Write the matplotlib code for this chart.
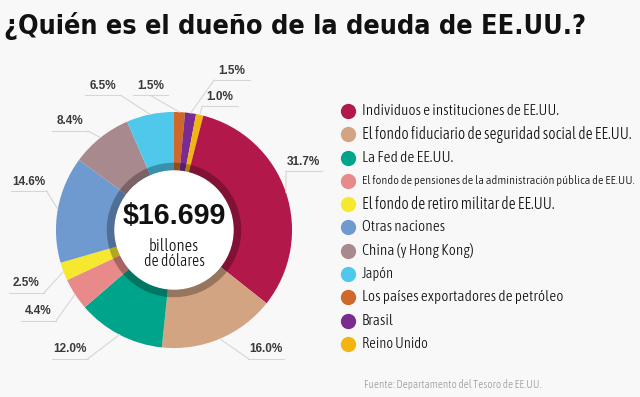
import numpy as np
import matplotlib
matplotlib.use("Agg")
import matplotlib.pyplot as plt
from matplotlib import font_manager
from matplotlib.font_manager import FontProperties

# --- Datos ---
categorias = [
    "Los países exportadores de petróleo",
    "Brasil",
    "Reino Unido",
    "Individuos e instituciones de EE.UU.",
    "El fondo fiduciario de seguridad social de EE.UU.",
    "La Fed de EE.UU.",
    "El fondo de pensiones de la administración pública de EE.UU.",
    "El fondo de retiro militar de EE.UU.",
    "Otras naciones",
    "China (y Hong Kong)",
    "Japón",
]
porcentajes = [1.5, 1.5, 1.0, 31.7, 16.0, 12.0, 4.4, 2.5, 14.6, 8.4, 6.5]
colores = ["#D0682A", "#7B2A90", "#F2B410", "#B3184A", "#D3A482", "#00A48A",
           "#E98A8A", "#F6E82E", "#6F9AD0", "#A88A8E", "#4FC8EC"]

# orden de la leyenda
orden_leyenda = [3, 4, 5, 6, 7, 8, 9, 10, 0, 1, 2]

# posiciones de las etiquetas (unidades del radio)
pos_etiquetas = [(-0.20, 1.22), (0.49, 1.35), (0.39, 1.13), (1.10, 0.58),
                 (0.78, -1.01), (-0.88, -1.01), (-1.15, -0.69), (-1.25, -0.45),
                 (-1.23, 0.41), (-0.88, 0.92), (-0.60, 1.22)]

total = "$16.699"
titulo = "¿Quién es el dueño de la deuda de EE.UU.?"
fuente = "Fuente: Departamento del Tesoro de EE.UU."


# --- Fuentes: busca una fuente condensada si existe ---
def buscar_condensada(peso):
    cands = []
    for f in font_manager.fontManager.ttflist:
        s = (f.name + " " + f.fname).lower()
        if "condensed" in s or "narrow" in s or str(f.stretch) in ("condensed", "semi-condensed"):
            if "italic" in s or f.style != "normal":
                continue
            if "mono" in s or "serif" in s.replace("sans-serif", ""):
                continue
            w = f.weight if isinstance(f.weight, int) else (700 if "bold" in str(f.weight) else 400)
            cands.append((abs(w - peso), f.fname))
    if cands:
        cands.sort()
        return FontProperties(fname=cands[0][1])
    return FontProperties(family="DejaVu Sans", weight="bold" if peso >= 600 else "normal")


fp_bold = buscar_condensada(700)
fp_reg = buscar_condensada(300)
fp_num = FontProperties(family="Liberation Sans", weight="bold")

fondo = "#F8F8F8"
W, H = 640, 397
fig = plt.figure(figsize=(6.4, 3.97), dpi=100, facecolor=fondo)
renderer = fig.canvas.get_renderer()


def ajustar(t, ancho_px, alto_max=None):
    # escala el tamaño de letra para que el texto ocupe ancho_px
    bb = t.get_window_extent(renderer)
    t.set_fontsize(t.get_fontsize() * ancho_px / bb.width)
    if alto_max is not None:
        bb = t.get_window_extent(renderer)
        if bb.height > alto_max:
            t.set_fontsize(t.get_fontsize() * alto_max / bb.height)


# --- Título ---
t = fig.text(4 / W, 1 - 26 / H, titulo, fontproperties=fp_bold,
             color="#111111", va="center", ha="left")
ajustar(t, 582, 40)

# --- Donut ---
cx, cy, lado = 174, 230, 360
ax = fig.add_axes([(cx - lado / 2) / W, (H - cy - lado / 2) / H, lado / W, lado / H])

wedges, _ = ax.pie(porcentajes, colors=colores, startangle=90, counterclock=False,
                   radius=1.0, wedgeprops=dict(width=0.5, linewidth=0))
# banda interior oscura
ax.pie(porcentajes, colors=["black"] * len(porcentajes), startangle=90,
       counterclock=False, radius=0.57,
       wedgeprops=dict(width=0.07, linewidth=0, alpha=0.28))
ax.add_patch(plt.Circle((0, 0), 0.5, color="white", zorder=5))
ax.set_xlim(-1.525, 1.525)
ax.set_ylim(-1.525, 1.525)
ax.set_aspect("equal")
ax.axis("off")

t = ax.text(0, 0.12, total, ha="center", va="center", fontproperties=fp_num,
            color="#111111", zorder=6)
ajustar(t, 104)
t = ax.text(0, -0.14, "billones", ha="center", va="center", fontproperties=fp_reg,
            color="#111111", zorder=6)
ajustar(t, 50, 17)
t = ax.text(0, -0.27, "de dólares", ha="center", va="center", fontproperties=fp_reg,
            color="#111111", zorder=6)
ajustar(t, 61, 17)

# etiquetas de porcentaje con líneas guía
for w, p, (lx, ly) in zip(wedges, porcentajes, pos_etiquetas):
    t = ax.text(lx, ly, f"{p:.1f}%", ha="center", va="center",
                fontproperties=fp_num, color="#3A3A3A")
    t.set_fontsize(8.5)
    x0, x1 = lx - 0.15, lx + 0.15
    yl = ly - 0.08
    ax.plot([x0, x1], [yl, yl], color="#D6D6D6", lw=0.8, clip_on=False)
    near = x0 if abs(x0) < abs(x1) else x1
    if abs(lx) < 0.3:
        near = lx
    ang = np.deg2rad((w.theta1 + w.theta2) / 2)
    ax.plot([np.cos(ang) * 1.0, near], [np.sin(ang) * 1.0, yl],
            color="#D6D6D6", lw=0.8, clip_on=False)

# --- Leyenda ---
y0, paso = 111, 23.3
anchos = {3: 197, 4: 270, 5: 91, 6: 273, 7: 193, 8: 83, 9: 112, 10: 32,
          0: 200, 1: 32, 2: 66}
for k, i in enumerate(orden_leyenda):
    y = 1 - (y0 + k * paso) / H
    fig.lines.append(plt.Line2D([348 / W], [y], marker="o", markersize=11,
                                markeredgewidth=0, color=colores[i],
                                transform=fig.transFigure))
    t = fig.text(362 / W, y, categorias[i], fontproperties=fp_reg,
                 color="#111111", va="center", ha="left")
    ajustar(t, anchos[i], 20)

t = fig.text(364 / W, 1 - 385 / H, fuente, fontproperties=fp_reg,
             color="#A0A0A0", va="center", ha="left")
ajustar(t, 178, 14)

fig.savefig("out.png", dpi=100, facecolor=fondo)
